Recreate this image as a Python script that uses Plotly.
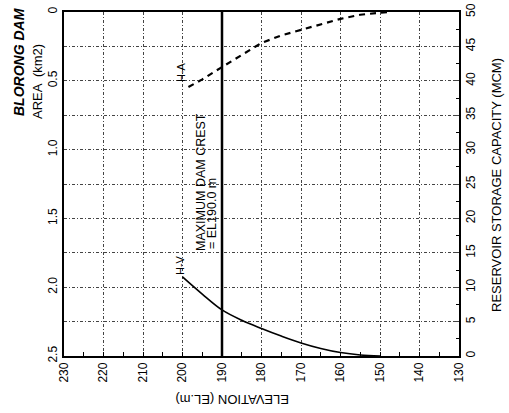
import plotly.graph_objects as go

# ---- data ----
elev_ha = [198.5, 195, 190, 185, 180, 175, 170, 165, 160, 155, 150, 148]
area_km2 = [0.545, 0.49, 0.40, 0.31, 0.225, 0.17, 0.13, 0.09, 0.05, 0.02, 0.005, 0.0]

elev_hv = [200, 195, 190, 185, 180, 175, 170, 165, 160, 155, 150]
volume_mcm = [11.5, 9.0, 6.7, 5.2, 4.0, 2.9, 1.9, 1.1, 0.5, 0.15, 0.0]

dam_crest_el = 190.0

x_ticks = [230, 220, 210, 200, 190, 180, 170, 160, 150, 140, 130]
area_ticks = [0, 0.5, 1.0, 1.5, 2.0, 2.5]
area_tick_text = ["0", "0.5", "1.0", "1.5", "2.0", "2.5"]
vol_ticks = [0, 5, 10, 15, 20, 25, 30, 35, 40, 45, 50]

FONT = "Liberation Sans, Arial, sans-serif"
GRID = "3px,2px,1px,2px"

fig = go.Figure()
fig.add_trace(go.Scatter(x=elev_ha, y=area_km2, mode="lines", yaxis="y",
                         line=dict(color="black", width=2.2, dash="6px,5px"),
                         showlegend=False, hoverinfo="skip"))
fig.add_trace(go.Scatter(x=elev_hv, y=volume_mcm, mode="lines", yaxis="y2",
                         line=dict(color="black", width=1.6, shape="spline"),
                         showlegend=False, hoverinfo="skip"))

fig.add_shape(type="line", xref="x", yref="paper", x0=dam_crest_el, x1=dam_crest_el,
              y0=0, y1=1, line=dict(color="black", width=2.5))

fig.update_layout(
    width=509, height=413,
    margin=dict(l=64, r=50, t=12, b=57, autoexpand=False),
    plot_bgcolor="white", paper_bgcolor="white",
    font=dict(family=FONT, size=12, color="black"),
    xaxis=dict(range=[230, 130], tickvals=x_ticks, tickangle=-90, automargin=False,
               showgrid=True, gridcolor="#444", griddash=GRID, gridwidth=1,
               showline=True, linecolor="black", linewidth=1.5, mirror=True,
               ticks="inside", ticklen=0, zeroline=False,
               minor=dict(dtick=5, ticks="inside", ticklen=4, tickcolor="black", showgrid=False),
               tickfont=dict(size=12)),
    yaxis=dict(range=[2.5, 0], tickvals=area_ticks, ticktext=area_tick_text, tickangle=-90,
               automargin=False,
               showgrid=False, showline=True, linecolor="black", linewidth=1.5,
               ticks="", zeroline=False, tickfont=dict(size=12)),
    yaxis2=dict(range=[0, 50], tickvals=vol_ticks, tickangle=-90, overlaying="y", side="right",
                automargin=False,
                showgrid=True, gridcolor="#444", griddash=GRID, gridwidth=1,
                showline=True, linecolor="black", linewidth=1.5,
                ticks="inside", ticklen=5, zeroline=False,
                minor=dict(dtick=2.5, ticks="inside", ticklen=3, tickcolor="black"),
                tickfont=dict(size=12)),
)

def ypap(py):
    return (356 - py) / 344.0

def xpap(px):
    return (px - 64) / 395.0

ann = [
    dict(text="<b><i>BLORONG DAM</i></b>", x=xpap(19), y=ypap(62), font=dict(size=14)),
    dict(text="AREA  (km2)", x=xpap(37), y=ypap(82), font=dict(size=13)),
    dict(text="RESERVOIR STORAGE CAPACITY (MCM)", x=xpap(496), y=ypap(185), font=dict(size=13)),
    dict(text="H-A", x=xpap(181), y=ypap(72), font=dict(size=11)),
    dict(text="H-V", x=xpap(180), y=ypap(265), font=dict(size=11)),
]
for a in ann:
    fig.add_annotation(xref="paper", yref="paper", showarrow=False, textangle=-90,
                       xanchor="center", yanchor="middle", **a)

fig.add_annotation(xref="paper", yref="paper", showarrow=False, textangle=-90,
                   x=xpap(201), y=ypap(253), xanchor="center", yanchor="bottom",
                   text="MAXIMUM DAM CREST", font=dict(size=12.5))
fig.add_annotation(xref="paper", yref="paper", showarrow=False, textangle=-90,
                   x=xpap(211.5), y=ypap(251), xanchor="center", yanchor="bottom",
                   text="= EL190.0 m", font=dict(size=12.5))
fig.add_annotation(xref="paper", yref="paper", showarrow=False, textangle=180,
                   x=xpap(232), y=ypap(400), xanchor="center", yanchor="middle",
                   text="ELEVATION (EL.m)", font=dict(size=13))

fig.write_html("out.html", config={"displayModeBar": False},
               post_script="document.body.style.margin='0';")
